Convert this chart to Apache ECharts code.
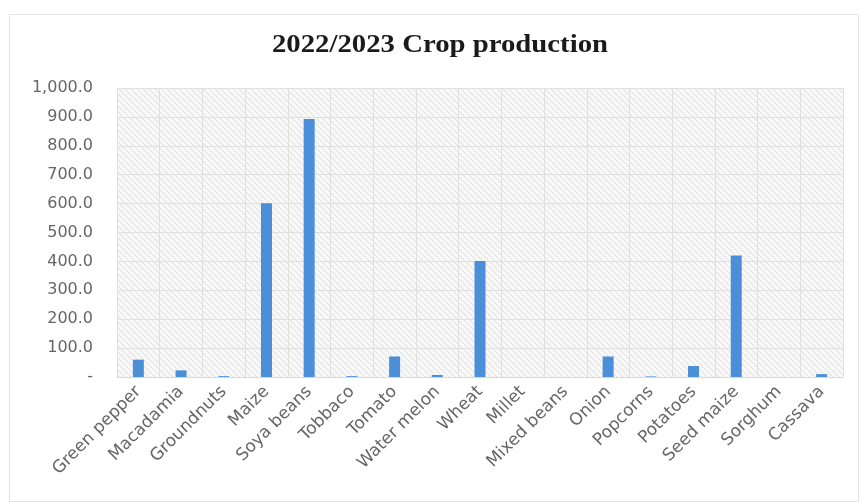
<!DOCTYPE html>
<html>
<head>
<meta charset="utf-8">
<script src="https://cdn.jsdelivr.net/npm/echarts@6/dist/echarts.min.js"></script>
<style>
  html, body { margin: 0; padding: 0; background: #ffffff; }
  #chart { width: 861px; height: 502px; }
</style>
</head>
<body>
<div id="chart"></div>
<script>
// Crop names and production totals for the 2022/2023 season
const crops = ['Green pepper', 'Macadamia', 'Groundnuts', 'Maize', 'Soya beans', 'Tobbaco',
  'Tomato', 'Water melon', 'Wheat', 'Millet', 'Mixed beans', 'Onion', 'Popcorns',
  'Potatoes', 'Seed maize', 'Sorghum', 'Cassava'];
const production = [60, 23, 3, 601, 893, 3, 71, 7, 401, 0, 0, 71, 2, 38, 420, 0, 10];

// Value axis range
const yMin = 0;
const yMax = 1000;
const yStep = 100;

const chartTitle = '2022/2023 Crop production';

// Light diagonal hatch used behind the plot
function hatchPattern() {
  const c = document.createElement('canvas');
  c.width = 6; c.height = 6;
  const g = c.getContext('2d');
  g.fillStyle = '#f8f8f8';
  g.fillRect(0, 0, 6, 6);
  g.strokeStyle = '#dedede';
  g.lineWidth = 1;
  g.beginPath();
  g.moveTo(0, 0); g.lineTo(6, 6);
  g.moveTo(-3, 3); g.lineTo(3, 9);
  g.moveTo(3, -3); g.lineTo(9, 3);
  g.stroke();
  return c;
}

const chart = echarts.init(document.getElementById('chart'), null, { renderer: 'canvas' });

const fmt = v => v === 0 ? '-' : v.toLocaleString('en-US', { minimumFractionDigits: 1, maximumFractionDigits: 1 });

chart.setOption({
  backgroundColor: '#ffffff',
  animation: false,
  graphic: [{
    type: 'rect',
    left: 7, top: 12,
    shape: { width: 849, height: 487 },
    style: { fill: 'none', stroke: '#e3e3e3', lineWidth: 1 },
    silent: true
  }, {
    type: 'text',
    x: 440, y: 46,
    scaleX: 1.15,
    style: {
      text: chartTitle,
      font: 'bold 25px "Liberation Serif"',
      fill: '#1a1a1a',
      textAlign: 'center',
      textVerticalAlign: 'middle'
    },
    silent: true
  }],
  grid: {
    left: 117, right: 18, top: 88, bottom: 125,
    show: true,
    backgroundColor: { image: hatchPattern(), repeat: 'repeat' },
    borderWidth: 0
  },
  xAxis: {
    type: 'category',
    data: crops,
    axisLine: { show: true, lineStyle: { color: '#d9d9d9' } },
    axisTick: { show: false },
    splitLine: { show: true, lineStyle: { color: '#e0e0e0', width: 1 } },
    axisLabel: {
      rotate: 45,
      interval: 0,
      margin: 12,
      fontFamily: 'DejaVu Sans',
      fontSize: 17,
      color: '#666666'
    }
  },
  yAxis: {
    type: 'value',
    min: yMin,
    max: yMax,
    interval: yStep,
    axisLine: { show: false },
    axisTick: { show: false },
    splitLine: { show: true, lineStyle: { color: '#e0e0e0', width: 1 } },
    axisLabel: {
      formatter: fmt,
      margin: 24,
      fontFamily: 'DejaVu Sans',
      fontSize: 16,
      color: '#666666'
    }
  },
  series: [{
    type: 'bar',
    data: production,
    barWidth: 11,
    itemStyle: { color: '#4a8fd8' }
  }]
});
</script>
</body>
</html>
